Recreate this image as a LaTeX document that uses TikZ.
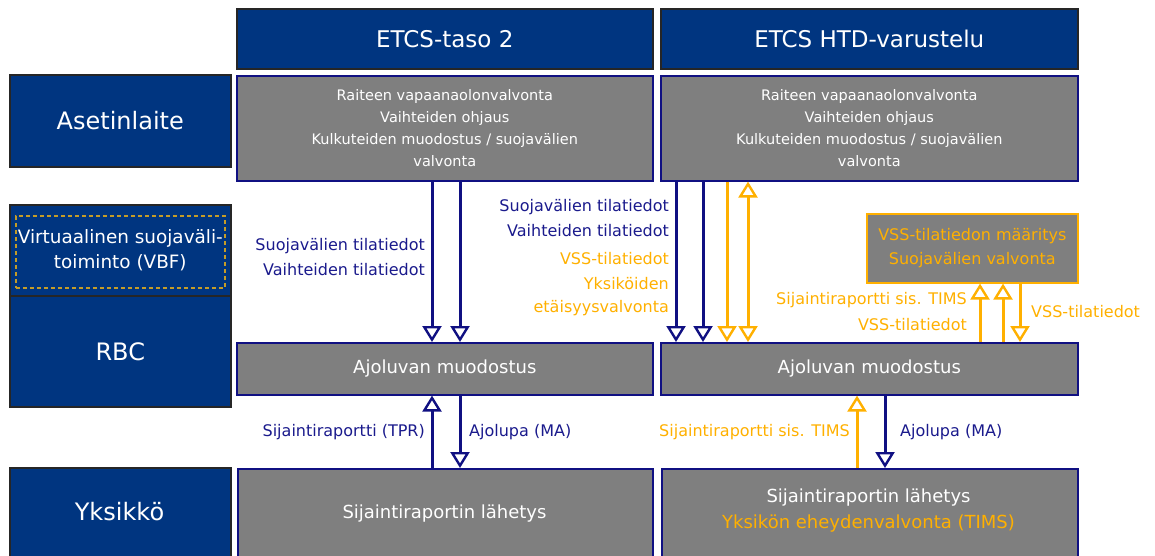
\documentclass[tikz,border=0pt]{standalone}
\usepackage{fontspec}
\setmainfont{DejaVu Sans}
\usetikzlibrary{arrows.meta}
\definecolor{hdrblue}{RGB}{0,53,128}
\definecolor{boxgray}{RGB}{127,127,127}
\definecolor{navyline}{RGB}{16,16,130}
\definecolor{navytext}{RGB}{26,26,140}
\definecolor{amber}{RGB}{255,176,0}
\definecolor{dashgold}{RGB}{196,156,40}
\tikzset{
  fs/.style={font=\fontsize{#1}{24}\selectfont},
  hdrbox/.style={draw=black!85, line width=1.6pt, fill=hdrblue, text=white, inner sep=0pt, anchor=north west, align=center},
  graybox/.style={draw=navyline, line width=1.6pt, fill=boxgray, text=white, inner sep=0pt, anchor=north west, align=center},
  vssbox/.style={draw=amber, line width=1.6pt, fill=boxgray, text=amber, inner sep=0pt, anchor=north west, align=center},
  headtri/.tip={Triangle[open, width=19pt, length=16pt, line width=2.4pt]},
  tip/.style={-headtri},
  bitip/.style={headtri-headtri},
  bline/.style={draw=navyline, line width=3pt},
  oline/.style={draw=amber, line width=3pt},
  blbl/.style={text=navytext, fs=16, inner sep=0pt},
  olbl/.style={text=amber, fs=16, inner sep=0pt},
}
\begin{document}
\begin{tikzpicture}[x=1pt, y=-1pt]
\useasboundingbox (0,0) rectangle (1155,556);
\clip (0,0) rectangle (1155,556);

% column headings
\node[hdrbox, fs=23, minimum width=416pt, minimum height=60pt] (h1) at (236,8) {ETCS-taso 2};
\node[hdrbox, fs=23, minimum width=417pt, minimum height=60pt] (h2) at (660,8) {ETCS HTD-varustelu};

% row headings
\node[hdrbox, fs=24, minimum width=221pt, minimum height=92pt] (rAs) at (9,74) {Asetinlaite};
\node[hdrbox, minimum width=221pt, minimum height=91pt] (rVbf) at (9,204) {};
\node[draw=dashgold, line width=1.6pt, dash pattern=on 4pt off 3pt, minimum width=209pt, minimum height=72pt, inner sep=0pt, anchor=north west] (vbfIn) at (15,215) {};
\node[text=white, align=center, inner sep=0pt, font=\fontsize{18.4}{25}\selectfont] (vbfTxt) at (rVbf.center) {Virtuaalinen suojaväli-\\toiminto (VBF)};
\node[hdrbox, fs=24, minimum width=221pt, minimum height=111pt] (rRbc) at (9,295) {RBC};
\node[hdrbox, minimum width=221pt, minimum height=92pt] (rYk) at (9,467) {};
\node[text=white, fs=24, inner sep=0pt] (rYkT) at (119.5,512) {Yksikkö};

% interlocking boxes
\node[graybox, font=\fontsize{14.5}{22}\selectfont, minimum width=416pt, minimum height=105pt] (il1) at (236,75)
  {Raiteen vapaanaolonvalvonta\\Vaihteiden ohjaus\\Kulkuteiden muodostus / suojavälien\\valvonta};
\node[graybox, font=\fontsize{14.5}{22}\selectfont, minimum width=417pt, minimum height=105pt] (il2) at (660,75)
  {Raiteen vapaanaolonvalvonta\\Vaihteiden ohjaus\\Kulkuteiden muodostus / suojavälien\\valvonta};

% RBC boxes
\node[graybox, fs=18, minimum width=416pt, minimum height=52pt] (ma1) at (236,342) {Ajoluvan muodostus};
\node[graybox, fs=18, minimum width=417pt, minimum height=52pt] (ma2) at (660,342) {Ajoluvan muodostus};

% virtual block box
\node[vssbox, font=\fontsize{16}{24}\selectfont, minimum width=211pt, minimum height=69pt] (vss) at (866,213)
  {VSS-tilatiedon määritys\\Suojavälien valvonta};

% on-board boxes
\node[graybox, minimum width=415pt, minimum height=100pt] (ob1) at (237,468) {};
\node[text=white, fs=18, inner sep=0pt] (ob1T) at (444.5,514) {Sijaintiraportin lähetys};
\node[graybox, minimum width=416pt, minimum height=100pt] (ob2) at (661,468) {};
\node[text=white, fs=18, inner sep=0pt] (ob2T) at (868.5,498) {Sijaintiraportin lähetys};
\node[text=amber, fs=18, inner sep=0pt] (ob2T2) at (868.5,524) {Yksikön eheydenvalvonta (TIMS)};

% arrow columns
\coordinate (xa) at (432,0);
\coordinate (xb) at (460,0);
\coordinate (xc) at (676,0);
\coordinate (xd) at (703,0);
\coordinate (xe) at (727,0);
\coordinate (xf) at (748,0);
\coordinate (xg) at (980,0);
\coordinate (xh) at (1003,0);
\coordinate (xi) at (1020,0);
\coordinate (xj) at (857,0);
\coordinate (xk) at (885,0);

% ETCS level 2
\draw[bline, tip] (il1.south -| xa) -- (ma1.north -| xa);
\draw[bline, tip] (il1.south -| xb) -- (ma1.north -| xb);
\draw[bline, tip] (ob1.north -| xa) -- (ma1.south -| xa);
\draw[bline, tip] (ma1.south -| xb) -- (ob1.north -| xb);

% hybrid train detection
\draw[bline, tip] (il2.south -| xc) -- (ma2.north -| xc);
\draw[bline, tip] (il2.south -| xd) -- (ma2.north -| xd);
\draw[oline, tip] (il2.south -| xe) -- (ma2.north -| xe);
\draw[oline, bitip] (il2.south -| xf) -- (ma2.north -| xf);
\draw[oline, tip] (ma2.north -| xg) -- (vss.south -| xg);
\draw[oline, tip] (ma2.north -| xh) -- (vss.south -| xh);
\draw[oline, tip] (vss.south -| xi) -- (ma2.north -| xi);
\draw[oline, tip] (ob2.north -| xj) -- (ma2.south -| xj);
\draw[bline, tip] (ma2.south -| xk) -- (ob2.north -| xk);

% connector labels
\node[blbl, anchor=east] (l1) at (425,246) {Suojavälien tilatiedot};
\node[blbl, anchor=east] (l2) at (425,270) {Vaihteiden tilatiedot};
\node[blbl, anchor=east] (l3) at (425,432) {Sijaintiraportti (TPR)};
\node[blbl, anchor=west] (l4) at (469,432) {Ajolupa (MA)};

\node[blbl, anchor=east] (r1) at (669,207) {Suojavälien tilatiedot};
\node[blbl, anchor=east] (r2) at (669,231) {Vaihteiden tilatiedot};
\node[olbl, anchor=east] (r3) at (669,259) {VSS-tilatiedot};
\node[olbl, anchor=east] (r4) at (669,284) {Yksiköiden};
\node[olbl, anchor=east] (r5) at (669,308) {etäisyysvalvonta};

\node[olbl, anchor=east] (v1) at (967,300) {Sijaintiraportti sis. TIMS};
\node[olbl, anchor=east] (v2) at (967,325) {VSS-tilatiedot};
\node[olbl, anchor=west] (v3) at (1031,312) {VSS-tilatiedot};

\node[olbl, anchor=east] (b1) at (850,432) {Sijaintiraportti sis. TIMS};
\node[blbl, anchor=west] (b2) at (900,432) {Ajolupa (MA)};
\end{tikzpicture}
\end{document}
